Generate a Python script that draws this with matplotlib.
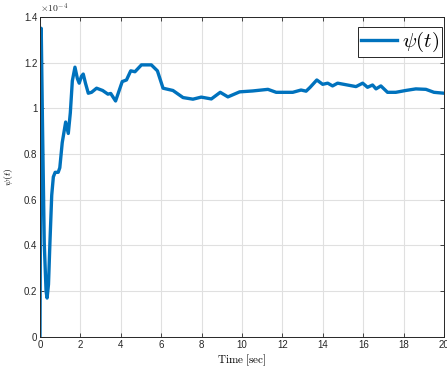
import numpy as np
import matplotlib.pyplot as plt

plt.rcParams['mathtext.fontset'] = 'cm'
plt.rcParams['font.family'] = ['Liberation Sans', 'DejaVu Sans']

# psi(t) response, values in units of 1e-4
t = [0.0, 0.06, 0.12, 0.21, 0.30, 0.35, 0.42, 0.49, 0.58, 0.66, 0.75, 0.90,
     0.98, 1.10, 1.27, 1.40, 1.50, 1.60, 1.73, 1.85, 1.94, 2.05, 2.14, 2.25,
     2.39, 2.55, 2.80, 3.10, 3.36, 3.50, 3.74, 4.07, 4.28, 4.49, 4.70, 5.02,
     5.51, 5.81, 6.09, 6.58, 7.08, 7.57, 7.98, 8.48, 8.92, 9.30, 9.88, 10.53,
     11.28, 11.69, 12.51, 12.92, 13.17, 13.37, 13.70, 13.99, 14.24, 14.48,
     14.73, 15.64, 15.97, 16.21, 16.46, 16.63, 16.87, 17.20, 17.61, 18.10,
     18.60, 19.10, 19.50, 20.0]
psi = [0.0, 1.35, 0.95, 0.41, 0.20, 0.17, 0.23, 0.41, 0.62, 0.70, 0.72, 0.72,
       0.74, 0.85, 0.94, 0.89, 0.98, 1.12, 1.18, 1.13, 1.11, 1.14, 1.15, 1.11,
       1.066, 1.07, 1.088, 1.078, 1.062, 1.065, 1.032, 1.117, 1.124, 1.164,
       1.16, 1.19, 1.19, 1.164, 1.088, 1.078, 1.047, 1.04, 1.049, 1.041, 1.07,
       1.05, 1.072, 1.076, 1.083, 1.07, 1.07, 1.08, 1.075, 1.092, 1.124, 1.105,
       1.11, 1.098, 1.11, 1.095, 1.11, 1.092, 1.102, 1.085, 1.098, 1.07, 1.07,
       1.078, 1.085, 1.083, 1.07, 1.066]

xticks = np.arange(0, 21, 2)
yticks = [0, 0.2, 0.4, 0.6, 0.8, 1.0, 1.2, 1.4]
ylabels = ['0', '0.2', '0.4', '0.6', '0.8', '1', '1.2', '1.4']

fig = plt.figure(figsize=(4.47, 3.67), dpi=100)
ax = fig.add_axes([0.0895, 0.082, 0.904, 0.872])

ax.plot(t, psi, color='#0072BD', lw=2.4, label=r'$\psi(t)$')

ax.set_xlim(0, 20)
ax.set_ylim(0, 1.4)
ax.set_xticks(xticks)
ax.set_yticks(yticks)
ax.set_yticklabels(ylabels)
ax.grid(True, color='#e0e0e0', lw=0.8)
ax.set_axisbelow(True)
ax.tick_params(direction='in', length=3, width=0.6, labelsize=7,
               colors='#262626', top=True, right=True, pad=2)
for s in ax.spines.values():
    s.set_color('#262626')
    s.set_linewidth(0.7)

ax.set_xlabel(r'$\mathrm{Time\ [sec]}$', fontsize=8, labelpad=2)
ax.set_ylabel(r'$\psi(t)$', fontsize=7, labelpad=6)
ax.text(0.0, 1.005, r'$\times\mathsf{10^{-4}}$', transform=ax.transAxes,
        fontsize=7, color='#262626', va='bottom', ha='left')

leg = ax.legend(loc='upper right', bbox_to_anchor=(0.995, 0.969),
                fontsize=15, handlelength=1.7, handletextpad=0.25,
                borderpad=0.15, fancybox=False, framealpha=1,
                edgecolor='#262626', borderaxespad=0)
leg.get_frame().set_linewidth(0.7)

fig.savefig('out.png', dpi=100)
